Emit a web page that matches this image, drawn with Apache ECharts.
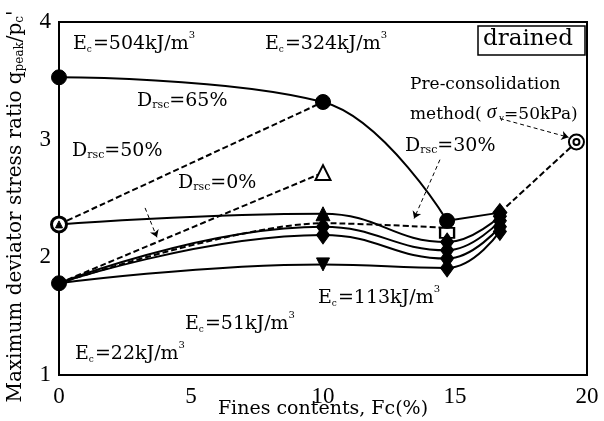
<!DOCTYPE html>
<html>
<head>
<meta charset="utf-8">
<script src="https://cdn.jsdelivr.net/npm/echarts@6/dist/echarts.min.js"></script>
<style>
  html, body { margin: 0; padding: 0; background: #fff; }
  #chart { width: 604px; height: 421px; }
</style>
</head>
<body>
<div id="chart"></div>
<script>
// Fines content (%) of the tested specimens
const fcSeries = [0, 10, 14.7, 16.7];

// Maximum deviator stress ratio q_peak/p_c' for each compaction energy (solid curves)
const q504 = [3.53, 3.32, 2.31, 2.38];
const q324 = [2.28, 2.37, 2.13, 2.35];
const q113 = [1.78, 2.26, 2.06, 2.31];
const q51  = [1.78, 2.19, 1.99, 2.26];
const q22  = [1.78, 1.94, 1.91, 2.22];

// Constant relative density lines (dashed)
const fcDr50 = [0, 10];
const qDr50  = [2.28, 3.32];
const fcDr0  = [0, 10];
const qDr0   = [1.78, 2.72];
const fcDr30 = [0, 10, 14.7];
const qDr30  = [1.78, 2.29, 2.25];
const fcPre  = [16.7, 19.6];
const qPre   = [2.38, 2.98];

// Axis ticks
const xTicks = [0, 5, 10, 15, 20];
const yTicks = [1, 2, 3, 4];

const SERIF = '"Liberation Serif", "Times New Roman", serif';
const WIDE = '"DejaVu Serif", serif';

function pts(xs, ys) { return xs.map((x, i) => [x, ys[i]]); }

const chart = echarts.init(document.getElementById('chart'), null, { renderer: 'canvas' });

function solid(name, xs, ys, smooth) {
  return {
    name, type: 'line', data: pts(xs, ys), smooth: smooth,
    showSymbol: false, symbol: 'none', z: 3,
    lineStyle: { color: '#000', width: 2 }
  };
}
function dashed(name, xs, ys) {
  return {
    name, type: 'line', data: pts(xs, ys), smooth: 0.3,
    showSymbol: false, symbol: 'none', z: 3,
    lineStyle: { color: '#000', width: 2, type: [6, 3] }
  };
}
function marks(data, symbol, size, filled, extra) {
  const base = {
    type: 'scatter', data, symbol, symbolSize: size, z: 5,
    itemStyle: filled
      ? { color: '#000', borderColor: '#000', opacity: 1 }
      : { color: '#fff', borderColor: '#000', borderWidth: 2, opacity: 1 }
  };
  return Object.assign(base, extra || {});
}

function ecText(val) {
  return '{e|E}{s|c}{e|=' + val + 'kJ/m}{p|3}';
}
const ecRich = {
  e: { fontFamily: WIDE, fontSize: 19, color: '#000', verticalAlign: 'bottom', lineHeight: 24 },
  s: { fontFamily: WIDE, fontSize: 9, color: '#000', verticalAlign: 'bottom', lineHeight: 22, padding: [0, 1, 0, 0] },
  p: { fontFamily: WIDE, fontSize: 10, color: '#000', verticalAlign: 'top', lineHeight: 24 }
};
function drText(val) {
  return '{e|D}{s|rsc}{e|=' + val + '%}';
}
const drRich = {
  e: { fontFamily: WIDE, fontSize: 19, color: '#000', verticalAlign: 'bottom', lineHeight: 22 },
  s: { fontFamily: WIDE, fontSize: 11, color: '#000', verticalAlign: 'bottom', lineHeight: 20 }
};

function label(x, y, text, rich) {
  return { type: 'text', x, y, z: 10, style: { text, rich, fill: '#000' } };
}

const option = {
  animation: false,
  backgroundColor: '#fff',
  grid: {
    left: 59, right: 17, top: 22, bottom: 46,
    outerBoundsMode: 'none', containLabel: false,
    show: true, borderColor: '#000', borderWidth: 2, backgroundColor: 'transparent'
  },
  xAxis: {
    type: 'value', min: 0, max: 20, interval: 5,
    axisLine: { show: true, lineStyle: { color: '#000', width: 2 } },
    axisTick: { show: false },
    splitLine: { show: false },
    axisLabel: { color: '#000', fontFamily: SERIF, fontSize: 23, margin: 10,
      formatter: (v) => xTicks.includes(v) ? String(v) : '' },
    name: 'Fines contents, Fc(%)', nameLocation: 'middle', nameGap: 25,
    nameMoveOverlap: false,
    nameTextStyle: { color: '#000', fontFamily: WIDE, fontSize: 19 }
  },
  yAxis: {
    type: 'value', min: 1, max: 4, interval: 1,
    axisLine: { show: true, lineStyle: { color: '#000', width: 2 } },
    axisTick: { show: false },
    splitLine: { show: false },
    axisLabel: { color: '#000', fontFamily: SERIF, fontSize: 23, margin: 8,
      formatter: (v) => yTicks.includes(v) ? String(v) : '' },
    name: '{n|Maximum deviator stress ratio q}{s|peak}{n|/p}{s|c}{n|\'}',
    nameLocation: 'middle', nameGap: 33, nameRotate: 90,
    nameMoveOverlap: false,
    nameTextStyle: {
      padding: [0, 16, 0, 0],
      rich: {
        n: { fontFamily: WIDE, fontSize: 20, color: '#000', verticalAlign: 'bottom', lineHeight: 24 },
        s: { fontFamily: WIDE, fontSize: 12, color: '#000', verticalAlign: 'bottom', lineHeight: 22 }
      }
    }
  },
  series: [
    solid('Ec=504', fcSeries.slice(0, 3), q504.slice(0, 3), 0.4),
    solid('Ec=504 tail', fcSeries.slice(2), q504.slice(2), 0),
    solid('Ec=324', fcSeries, q324, 0.45),
    solid('Ec=113', fcSeries, q113, 0.45),
    solid('Ec=51', fcSeries, q51, 0.45),
    solid('Ec=22', fcSeries, q22, 0.45),
    dashed('Drsc=50%', fcDr50, qDr50),
    dashed('Drsc=0%', fcDr0, qDr0),
    dashed('Drsc=30%', fcDr30, qDr30),
    dashed('Pre-consolidation', fcPre, qPre),
    // markers
    marks(pts(fcSeries.slice(0, 3), q504.slice(0, 3)), 'circle', 15, true),
    marks([[fcSeries[0], q324[0]]], 'circle', 15, false, { itemStyle: { color: '#fff', borderColor: '#000', borderWidth: 3, opacity: 1 } }),
    marks([[fcSeries[0], q324[0]]], 'triangle', 7, true, { z: 6 }),
    marks([[fcSeries[1], q324[1]]], 'triangle', 14, true),
    marks(pts(fcSeries.slice(1), q113.slice(1)), 'diamond', [13, 18], true),
    marks(pts(fcSeries.slice(1), q51.slice(1)), 'diamond', [13, 18], true),
    marks([[fcSeries[2], q22[2]], [fcSeries[3], q22[3]]], 'diamond', [13, 18], true),
    marks([[fcSeries[2], q324[2]], [fcSeries[3], q324[3]]], 'diamond', [13, 18], true),
    marks([[fcSeries[3], q504[3]]], 'diamond', [14, 18], true),
    marks([[fcSeries[1], q22[1]]], 'triangle', 13, true, { symbolRotate: 180 }),
    marks([[fcSeries[0], q22[0]]], 'circle', 15, true),
    marks([[fcDr0[1], qDr0[1]]], 'triangle', 15, false),
    marks([[fcDr30[2], qDr30[2]]], 'rect', [14, 10], false, { z: 4, symbolOffset: [0, 5] }),
    marks([[fcPre[1], qPre[1]]], 'circle', 15, false),
    marks([[fcPre[1], qPre[1]]], 'circle', 6, false, { z: 6, itemStyle: { color: '#fff', borderColor: '#000', borderWidth: 2, opacity: 1 } }),
    // leader arrows for annotations
    {
      type: 'line', data: [], z: 4,
      markLine: {
        silent: true, symbol: ['none', 'arrow'], symbolSize: 7,
        lineStyle: { color: '#000', width: 1, type: [4, 3] }, label: { show: false },
        data: [
          [{ coord: [16.7, 3.18] }, { coord: [19.3, 3.02] }],
          [{ coord: [14.43, 2.83] }, { coord: [13.45, 2.33] }],
          [{ coord: [3.26, 2.42] }, { coord: [3.71, 2.17] }]
        ]
      }
    }
  ],
  graphic: [
    label(73, 30, ecText('504'), ecRich),
    label(265, 30, ecText('324'), ecRich),
    label(318, 284, ecText('113'), ecRich),
    label(185, 310, ecText('51'), ecRich),
    label(75, 340, ecText('22'), ecRich),
    label(137, 89, drText('65'), drRich),
    label(72, 139, drText('50'), drRich),
    label(178, 171, drText('0'), drRich),
    label(405, 134, drText('30'), drRich),
    { type: 'text', x: 410, y: 76, z: 10, style: { text: 'Pre-consolidation', font: '17px ' + WIDE, fill: '#000' } },
    { type: 'text', x: 410, y: 103, z: 10, style: {
      text: '{n|method(}{g| σ}{v| v}{n|=50kPa)}',
      rich: {
        n: { fontFamily: WIDE, fontSize: 17, color: '#000', verticalAlign: 'bottom', lineHeight: 20 },
        g: { fontFamily: SERIF, fontSize: 20, fontStyle: 'italic', color: '#000', verticalAlign: 'bottom', lineHeight: 20 },
        v: { fontFamily: SERIF, fontSize: 10, color: '#000', verticalAlign: 'bottom', lineHeight: 18 }
      } } },
    { type: 'rect', z: 10, shape: { x: 478, y: 26, width: 107, height: 29 },
      style: { fill: '#fff', stroke: '#000', lineWidth: 1.5 } },
    { type: 'text', z: 11, x: 483, y: 28, style: { text: 'drained', font: '23px ' + WIDE, fill: '#000' } }
  ]
};

chart.setOption(option);
</script>
</body>
</html>
